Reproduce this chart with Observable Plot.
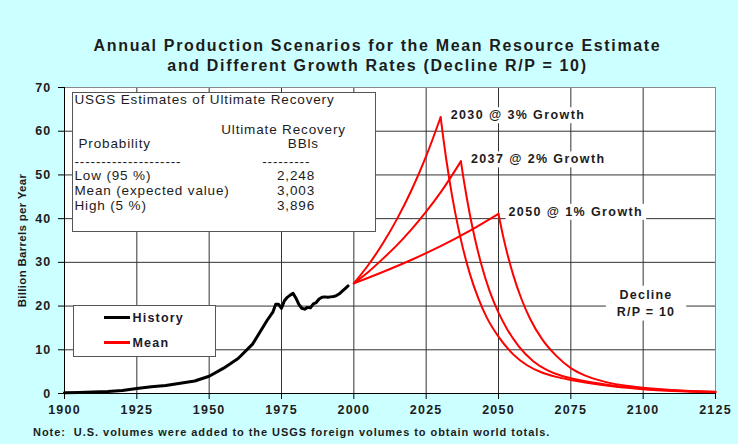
<!DOCTYPE html>
<html>
<head>
<meta charset="utf-8">
<script src="https://cdn.jsdelivr.net/npm/d3@7"></script>
<script src="https://cdn.jsdelivr.net/npm/@observablehq/plot@0.6"></script>
<style>
  html, body { margin: 0; padding: 0; background: #ccffff; }
  #wrap { position: relative; width: 738px; height: 444px; background: #ccffff; overflow: hidden;
          font-family: "Liberation Sans", Arial, sans-serif; color: #1c1c1c; }
  #chart svg { position: absolute; left: 0; top: 0; }
  #title { position: absolute; left: 0; top: 36px; width: 755px; text-align: center;
           font-weight: bold; font-size: 16px; line-height: 20px; letter-spacing: 1.65px; }
  #note { position: absolute; left: 33px; top: 426.5px; font-weight: bold; font-size: 11px;
          line-height: 11px; letter-spacing: 0.95px; white-space: pre; }
  .box { position: absolute; background: #fff; border: 1.5px solid #555; box-sizing: border-box; }
  .box span { position: absolute; white-space: pre; }
  #table { left: 72px; top: 92px; width: 304px; height: 140px; font-size: 13.5px; line-height: 13.5px; letter-spacing: 0.85px; }
  #legend { left: 73px; top: 305px; width: 143px; height: 52px; font-size: 12.5px; line-height: 12.5px;
            font-weight: bold; letter-spacing: 1.2px; color: #1a1a2e; }
  #legend i { position: absolute; display: block; }
</style>
</head>
<body>
<div id="wrap">
  <div id="chart"></div>
  <div id="title"></div>
  <div id="table" class="box"></div>
  <div id="legend" class="box"></div>
  <div id="note"></div>
</div>
<script>
// ---- text ----
const titleLines = [
  "Annual Production Scenarios for the Mean Resource Estimate",
  "and Different Growth Rates (Decline R/P = 10)"
];
const noteText = "Note:  U.S. volumes were added to the USGS foreign volumes to obtain world totals.";
const yAxisTitle = "Billion Barrels per Year";

// ---- axes ----
const xTicks = [1900, 1925, 1950, 1975, 2000, 2025, 2050, 2075, 2100, 2125];
const yTicks = [0, 10, 20, 30, 40, 50, 60, 70];

// ---- USGS estimates table ----
const tableTitle = "USGS Estimates of Ultimate Recovery";
const recoveryHeader = ["Ultimate Recovery", "BBls"];
const probabilityHeader = "Probability";
const probabilities = ["Low (95 %)", "Mean (expected value)", "High (5 %)"];
const recoveries = ["2,248", "3,003", "3,896"];

// ---- legend ----
const legendNames = ["History", "Mean"];
const legendColors = ["#000000", "#ff0000"];

// ---- historical world production (billion barrels / year) ----
const historyYears = [1900, 1905, 1910, 1915, 1920, 1925, 1930, 1935, 1940, 1945, 1950, 1955, 1960, 1965,
  1970, 1972, 1973, 1974, 1975, 1976, 1977, 1978, 1979, 1980, 1981, 1982, 1983, 1984, 1985,
  1986, 1987, 1988, 1989, 1990, 1991, 1992, 1993, 1994, 1995, 1996, 1997, 1998];
const historyValues = [0.15, 0.22, 0.33, 0.45, 0.7, 1.15, 1.55, 1.85, 2.35, 2.85, 3.95, 5.8, 8.0, 11.3,
  16.7, 18.6, 20.4, 20.4, 19.5, 21.2, 22.0, 22.5, 22.9, 21.8, 20.4, 19.5, 19.3, 19.7, 19.6,
  20.5, 20.8, 21.6, 22.0, 22.1, 22.0, 22.1, 22.2, 22.4, 22.8, 23.4, 24.0, 24.6];

// ---- scenarios: growth until the peak year, then decline at R/P = 10 ----
const peakYears = [2030, 2037, 2050];
const growthRates = ["3%", "2%", "1%"];

const growth3Years = [2000, 2005, 2010, 2015, 2020, 2025, 2030];
const growth3Values = [25.2, 29.4, 34.3, 40.0, 46.6, 54.3, 63.2];
const growth2Years = [2000, 2005, 2010, 2015, 2020, 2025, 2030, 2037];
const growth2Values = [25.2, 27.8, 30.8, 34.0, 37.6, 41.6, 46.0, 53.1];
const growth1Years = [2000, 2010, 2020, 2030, 2040, 2050];
const growth1Values = [25.2, 27.8, 30.6, 33.7, 37.2, 41.1];

const decline3Years = [2030, 2031, 2032, 2033, 2035, 2037, 2040, 2043, 2046, 2050, 2055, 2060, 2065, 2070, 2075, 2080, 2090, 2100, 2110, 2125];
const decline3Values = [63.2, 58.0, 53.3, 49.0, 41.5, 35.2, 27.6, 21.8, 17.3, 13.0, 9.0, 6.4, 4.8, 3.8, 3.1, 2.5, 1.6, 1.0, 0.6, 0.3];
const decline2Years = [2037, 2038, 2039, 2040, 2042, 2044, 2047, 2050, 2053, 2057, 2062, 2067, 2072, 2075, 2080, 2090, 2100, 2110, 2125];
const decline2Values = [53.1, 48.8, 44.9, 41.3, 35.0, 29.7, 23.3, 18.5, 14.7, 10.8, 7.4, 5.3, 4.0, 3.5, 2.8, 1.8, 1.1, 0.7, 0.35];
const decline1Years = [2050, 2051, 2052, 2053, 2055, 2058, 2061, 2065, 2070, 2075, 2080, 2085, 2090, 2095, 2100, 2110, 2125];
const decline1Values = [41.1, 37.8, 34.8, 32.1, 27.3, 21.5, 17.0, 12.5, 8.6, 5.8, 4.1, 3.0, 2.2, 1.7, 1.3, 0.8, 0.4];

const declineLabelLines = ["Decline", "R/P = 10"];
const declineLabelYear = 2101;
const declineLabelValue = 21;

// ---- build tables for the marks ----
const zip = (years, values, extra) => years.map((year, i) => ({year, value: values[i], ...extra}));
const history = zip(historyYears, historyValues, {});
const segments = [
  [growth3Years, growth3Values, "3% growth"], [decline3Years, decline3Values, "3% decline"],
  [growth2Years, growth2Values, "2% growth"], [decline2Years, decline2Values, "2% decline"],
  [growth1Years, growth1Values, "1% growth"], [decline1Years, decline1Values, "1% decline"]
];
const scenarios = segments.flatMap(([ys, vs, segment]) => zip(ys, vs, {segment}));
const peakValues = [growth3Values, growth2Values, growth1Values].map(v => v[v.length - 1]);
const peaks = peakYears.map((year, i) => ({year, value: peakValues[i], label: `${year} @ ${growthRates[i]} Growth`}));
const declineLabel = [{year: declineLabelYear, value: declineLabelValue, label: declineLabelLines.join("\n")}];

const ink = "#1c1c1c";
const chart = Plot.plot({
  width: 738,
  height: 444,
  marginLeft: 64,
  marginRight: 23,
  marginTop: 87,
  marginBottom: 51,
  style: {background: "transparent", fontFamily: "'Liberation Sans', Arial, sans-serif", fontSize: "12.5px",
          fontWeight: "bold", letterSpacing: "1.2px", color: ink, overflow: "visible"},
  x: {domain: [1900, 2125]},
  y: {domain: [0, 70]},
  marks: [
    Plot.frame({fill: "white"}),
    Plot.gridX(xTicks, {stroke: "#333", strokeOpacity: 1}),
    Plot.gridY(yTicks, {stroke: "#333", strokeOpacity: 1}),
    Plot.frame({stroke: "#888"}),
    Plot.ruleX([1900], {stroke: "#000"}),
    Plot.ruleY([0], {stroke: "#000"}),
    Plot.axisY(yTicks, {tickSize: 6, tickPadding: 7, label: null, stroke: "#000"}),
    Plot.axisX(xTicks, {tickSize: 6, tickPadding: 6, tickFormat: d => String(d), label: null, stroke: "#000"}),
    Plot.text([yAxisTitle], {text: d => d, frameAnchor: "left", textAnchor: "middle", rotate: -90, dx: -42,
      fontSize: 11.5, fill: ink, ariaDescription: "y-title"}),
    Plot.line(history, {x: "year", y: "value", stroke: legendColors[0], strokeWidth: 3, strokeLinejoin: "round"}),
    Plot.line(scenarios, {x: "year", y: "value", z: "segment", stroke: legendColors[1], strokeWidth: 2, curve: "monotone-x"}),
    Plot.text(peaks, {x: "year", y: "value", text: "label", textAnchor: "start", dx: 10, dy: -2, fontSize: 12.5,
      fill: ink, ariaDescription: "peak-labels"}),
    Plot.text(declineLabel, {x: "year", y: "value", text: "label", textAnchor: "middle", lineHeight: 1.35,
      fontSize: 12.5, fill: ink, ariaDescription: "decline-label"})
  ]
});
const svg = d3.select(chart);
svg.selectAll('g[aria-description="y-title"] text').style("letter-spacing", "0.3px");
svg.selectAll('g[aria-description="peak-labels"] text').style("letter-spacing", "1.4px");
document.getElementById("chart").append(chart);

// white boxes behind the annotation labels, sized from the rendered text
function backBoxes(name, padX, padY) {
  svg.selectAll(`g[aria-description="${name}"] text`).each(function () {
    const b = this.getBBox();
    d3.select(this.parentNode).insert("rect", () => this)
      .attr("transform", this.getAttribute("transform"))
      .attr("x", b.x - padX).attr("y", b.y - padY)
      .attr("width", b.width + 2 * padX).attr("height", b.height + 2 * padY)
      .attr("fill", "white").attr("stroke", "none");
  });
}
backBoxes("peak-labels", 3, 1);
backBoxes("decline-label", 11, 2);

// ---- title and note ----
d3.select("#title").selectAll("div").data(titleLines).join("div").text(d => d);
d3.select("#note").text(noteText);

// ---- USGS table box ----
const table = d3.select("#table");
const put = (sel, text, left, top) => sel.append("span").style("left", left + "px").style("top", top + "px").text(text);
put(table, tableTitle, 1.5, 0.1);
put(table, recoveryHeader[0], 148.2, 30.1);
put(table, probabilityHeader, 5.5, 44.4);
put(table, recoveryHeader[1], 214.8, 44.4);
put(table, "-".repeat(20), 1.5, 61.8);
put(table, "-".repeat(9), 189.2, 61.8);
probabilities.forEach((p, i) => {
  put(table, p, 1.5, 75.8 + i * 15.2);
  put(table, recoveries[i], 204, 75.8 + i * 15.2);
});

// ---- legend box ----
const legend = d3.select("#legend");
legendNames.forEach((name, i) => {
  legend.append("i")
    .style("left", "29.5px").style("width", "26px")
    .style("top", (i === 0 ? 9.8 : 35.3) + "px")
    .style("height", (i === 0 ? 3.5 : 2.5) + "px")
    .style("background", legendColors[i]);
  put(legend, name, 58.5, 5.9 + i * 25);
});
</script>
</body>
</html>
